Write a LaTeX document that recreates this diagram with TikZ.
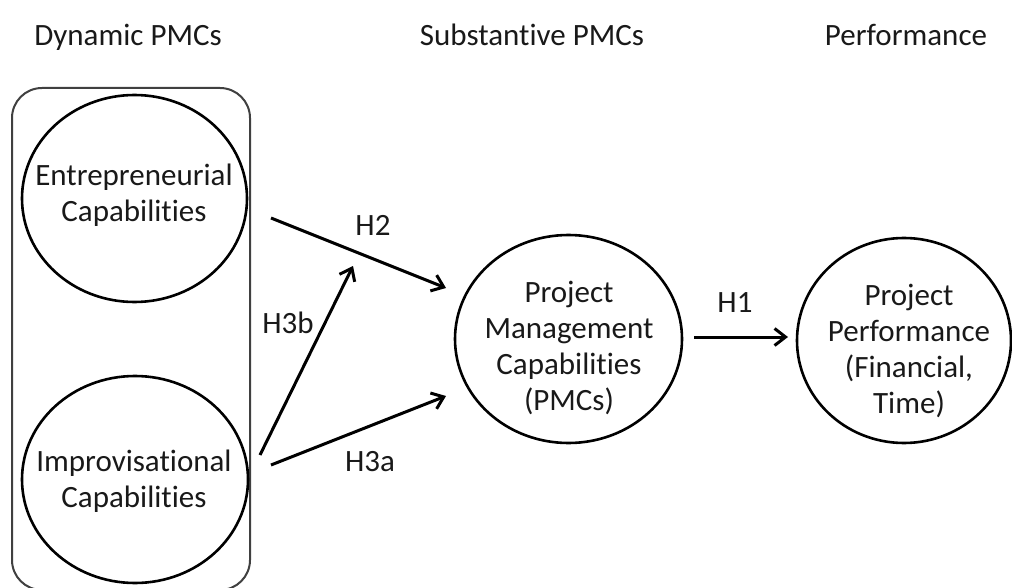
\documentclass[tikz,border=0pt]{standalone}
\usepackage{fontspec}
\setmainfont{Carlito}[Ligatures={NoCommon,NoRare,NoContextual}]
\usetikzlibrary{arrows.meta,shapes.geometric}
\begin{document}
\begin{tikzpicture}[x=1pt,y=-1pt,
  construct/.style={ellipse, draw=black, line width=2.6pt, inner sep=0pt},
  txt/.style={align=center, font=\fontsize{31}{36}\selectfont, inner sep=0pt, text=black!90},
  head/.style={font=\fontsize{31}{36}\selectfont, anchor=base, inner sep=0pt, text=black!90},
  hyp/.style={font=\fontsize{31}{36}\selectfont, inner sep=0pt, text=black!90},
  link/.style={line width=3pt, -{Straight Barb[length=11pt,width=17pt]}},
  group/.style={draw=black!75, line width=2pt, rounded corners=30pt, inner sep=0pt}]
\useasboundingbox (0,0) rectangle (1012,588);
\clip (0,0) rectangle (1012,588);

% column headings
\node[head] (hdyn)  at (128,46) {Dynamic PMCs};
\node[head] (hsub)  at (532,46) {Substantive PMCs};
\node[head] (hperf) at (906,46) {Performance};

% frame around the dynamic capabilities
\node[group, minimum width=238, minimum height=502] (dyn) at (131,339) {};

% constructs
\node[construct, minimum width=225, minimum height=207] (ent)  at (134.5,198.5) {};
\node[construct, minimum width=226, minimum height=207] (imp)  at (135,479.5) {};
\node[construct, minimum width=227, minimum height=208] (pmc)  at (568.5,339) {};
\node[construct, minimum width=214, minimum height=205] (perf) at (904,340.5) {};

\node[txt] (tent)  at (134,195) {Entrepreneurial\\Capabilities};
\node[txt] (timp)  at (134,481) {Improvisational\\Capabilities};
\node[txt] (tpmc)  at (569,348) {Project\\Management\\Capabilities\\(PMCs)};
\node[txt] (tperf) at (909,351) {Project\\Performance\\(Financial,\\Time)};

% arrow end points
\coordinate (h2s)  at (271,218);
\coordinate (h2e)  at (446,288);
\coordinate (h3bs) at (260,455);
\coordinate (h3be) at (353,266);
\coordinate (h3as) at (271,465);
\coordinate (h3ae) at (446,396);
\coordinate (h1s)  at (694,337);
\coordinate (h1e)  at (788,337);

% hypothesised paths
\draw[link] (h2s) -- (h2e);
\draw[link] (h3bs) -- (h3be);
\draw[link] (h3as) -- (h3ae);
\draw[link] (h1s) -- (h1e);

\node[hyp] (lh2)  at (373,225) {H2};
\node[hyp] (lh3b) at (288,323) {H3b};
\node[hyp] (lh3a) at (370,462) {H3a};
\node[hyp] (lh1)  at (735,303) {H1};
\end{tikzpicture}
\end{document}
